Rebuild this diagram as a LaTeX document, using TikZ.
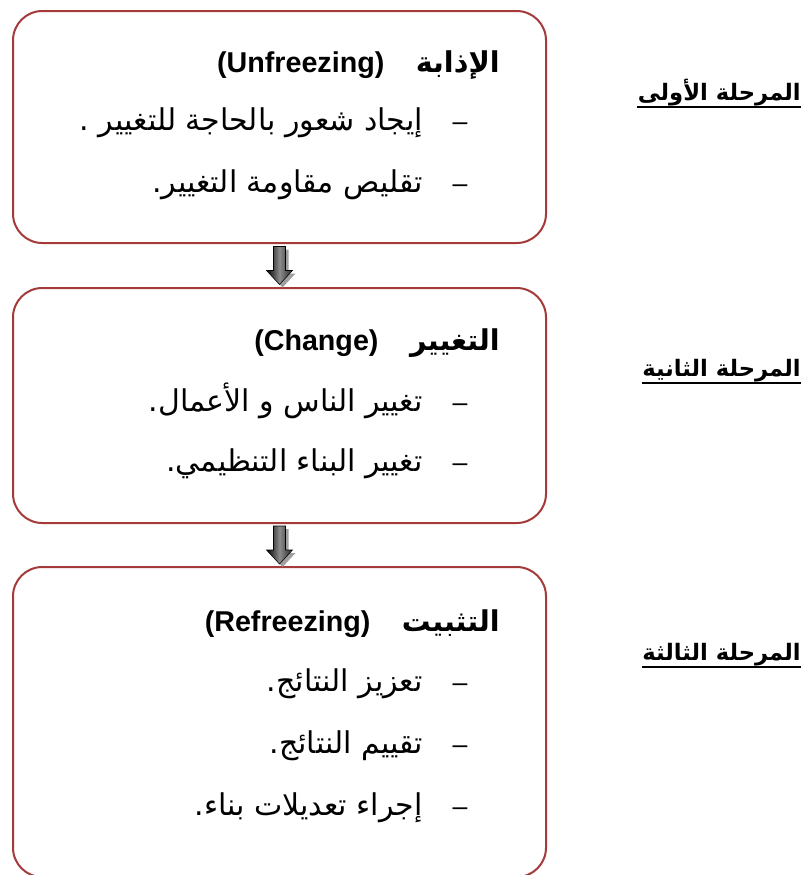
\documentclass[tikz,border=0pt]{standalone}
\usepackage{fontspec}
\setmainfont{Liberation Sans}
\newfontfamily\arabicfont[Script=Arabic]{DejaVu Sans}
\TeXXeTstate=1
\usetikzlibrary{calc}
\definecolor{boxred}{RGB}{165,58,58}

\tikzset{
  stagebox/.style={draw=boxred, line width=1.5pt, rounded corners=22pt,
    inner sep=0pt, anchor=north west},
  boxtitle/.style={font=\arabicfont\bfseries\fontsize{21.5}{26}\selectfont,
    inner sep=0pt, anchor=base east},
  itemtext/.style={font=\arabicfont\fontsize{22.5}{27}\selectfont,
    inner sep=0pt, anchor=base east},
  dashmark/.style={font=\fontsize{20}{24}\selectfont, inner sep=0pt, anchor=base},
  stagelabel/.style={font=\arabicfont\bfseries\fontsize{17}{21}\selectfont,
    inner sep=0pt, anchor=base east},
  underline/.style={line width=1.5pt},
  blockarrow/.pic={
    \fill[gray!75] (-3,-16) -- (9,-16) -- (9,8) -- (16,8) -- (3,22) -- (-10,8) -- (-3,8) -- cycle;
    \shade[left color=black, right color=black!85, middle color=gray!90, draw=black, line width=0.4pt]
      (-6,-19) -- (6,-19) -- (6,5) -- (13,5) -- (0,19) -- (-13,5) -- (-6,5) -- cycle;
  }
}

\begin{document}
\begin{tikzpicture}[x=0.75pt, y=-0.75pt]
  \useasboundingbox (0,0) rectangle (804,875);

  % the three stage boxes
  \node[stagebox, minimum width=399.75pt, minimum height=174pt] (b1) at (12,10) {};
  \node[stagebox, minimum width=399.75pt, minimum height=176.25pt] (b2) at (12,287) {};
  \node[stagebox, minimum width=399.75pt, minimum height=232.5pt] (b3) at (12,566) {};

  % block arrows between the boxes
  \path (b1.south) -- (b2.north) coordinate[midway] (m1);
  \path (b2.south) -- (b3.north) coordinate[midway] (m2);
  \pic at (m1) {blockarrow};
  \pic at (m2) {blockarrow};

  % stage 1: unfreezing
  \node[boxtitle] (t1) at (500,72) {\beginR الإذابة\hspace{1.1em}\beginL{\normalfont\bfseries(Unfreezing)}\endL\endR};
  \node[dashmark] (d11) at (460,130) {–};
  \node[itemtext] (i11) at (423,130) {\beginR إيجاد شعور بالحاجة للتغيير .\endR};
  \node[dashmark] (d12) at (460,192) {–};
  \node[itemtext] (i12) at (423,192) {\beginR تقليص مقاومة التغيير.\endR};

  % stage 2: change
  \node[boxtitle] (t2) at (500,350) {\beginR التغيير\hspace{1.1em}\beginL{\normalfont\bfseries(Change)}\endL\endR};
  \node[dashmark] (d21) at (460,411) {–};
  \node[itemtext] (i21) at (423,411) {\beginR تغيير الناس و الأعمال.\endR};
  \node[dashmark] (d22) at (460,471) {–};
  \node[itemtext] (i22) at (423,471) {\beginR تغيير البناء التنظيمي.\endR};

  % stage 3: refreezing
  \node[boxtitle] (t3) at (500,631) {\beginR التثبيت\hspace{1.1em}\beginL{\normalfont\bfseries(Refreezing)}\endL\endR};
  \node[dashmark] (d31) at (460,691) {–};
  \node[itemtext] (i31) at (423,691) {\beginR تعزيز النتائج.\endR};
  \node[dashmark] (d32) at (460,753) {–};
  \node[itemtext] (i32) at (423,753) {\beginR تقييم النتائج.\endR};
  \node[dashmark] (d33) at (460,815) {–};
  \node[itemtext] (i33) at (423,815) {\beginR إجراء تعديلات بناء.\endR};

  % stage labels on the right
  \node[stagelabel] (l1) at (801,100) {\beginR المرحلة الأولى\endR};
  \node[stagelabel] (l2) at (801,376) {\beginR المرحلة الثانية\endR};
  \node[stagelabel] (l3) at (801,660) {\beginR المرحلة الثالثة\endR};
  \draw[underline] ($(l1.base west)+(0,7)$) -- ($(l1.base east)+(0,7)$);
  \draw[underline] ($(l2.base west)+(0,7)$) -- ($(l2.base east)+(0,7)$);
  \draw[underline] ($(l3.base west)+(0,7)$) -- ($(l3.base east)+(0,7)$);
\end{tikzpicture}
\end{document}
